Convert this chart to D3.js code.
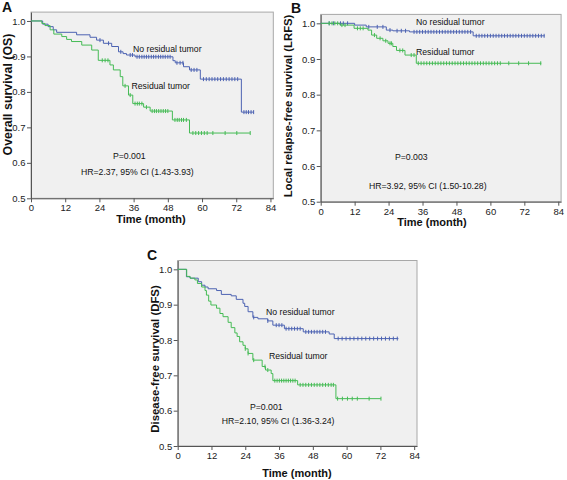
<!DOCTYPE html>
<html><head><meta charset="utf-8">
<script src="https://cdn.jsdelivr.net/npm/d3@7"></script>
<style>body{margin:0;background:#fff;} svg{display:block;font-family:"Liberation Sans",Arial,sans-serif;}</style>
</head><body><svg id="c" width="567" height="480"></svg>
<script>
// ---------- shared ----------
const xTicks = [0, 12, 24, 36, 48, 60, 72, 84];
const yTicks = [0.5, 0.6, 0.7, 0.8, 0.9, 1.0];
const groupNames = ["No residual tumor", "Residual tumor"];

// ---------- Panel A: Overall survival ----------
const osNoResTime = [0, 4.1, 6, 7.8, 9, 16, 20.7, 23, 25.4, 28.3, 30.7, 32.3, 33.5, 36.5, 49.8, 50.6, 53.5, 55.6, 59.4, 73.8];
const osNoResSurv = [1, 0.991, 0.984, 0.975, 0.968, 0.961, 0.954, 0.946, 0.937, 0.928, 0.913, 0.908, 0.904, 0.899, 0.888, 0.882, 0.871, 0.862, 0.836, 0.743];
const osNoResEnd = 78.2;
const osNoResCensor = [24.2, 27.2, 31.5, 34.8, 35.6, 37.2, 38, 38.9, 39.7, 40.5, 41.3, 42.2, 43, 43.8, 44.7, 45.5, 46.3, 47.1, 48, 48.8, 51.2, 52.3, 53.3, 56.2, 57.2, 58.2, 60.5, 61.5, 62.5, 63.5, 64.5, 65.5, 66.5, 67.5, 68.5, 69.5, 70.5, 71.5, 72.5, 74.7, 75.5, 76.3, 77.2, 78.1];
const osResTime = [0, 3.8, 4.9, 6.7, 8, 10.8, 12.5, 14.2, 17.8, 21.3, 23.6, 27.7, 28.9, 31.3, 32.2, 34.2, 35.7, 39.5, 41.8, 49.6, 55.6];
const osResSurv = [1, 0.993, 0.987, 0.975, 0.963, 0.956, 0.948, 0.942, 0.932, 0.918, 0.889, 0.876, 0.862, 0.843, 0.817, 0.791, 0.767, 0.757, 0.746, 0.721, 0.684];
const osResEnd = 76.9;
const osResCensor = [25, 26, 27, 33, 34.8, 36.5, 37.3, 38, 38.9, 40.5, 42.5, 43.3, 44, 44.8, 45.6, 46.4, 47.2, 48, 50.5, 51.3, 52, 52.8, 53.5, 54.5, 56.8, 57.8, 58.8, 59.8, 60.8, 61.8, 63.8, 68.1, 72.2, 76.9];

// ---------- Panel B: Local relapse-free survival ----------
const lrfsNoResTime = [0, 12, 16.1, 23.2, 25.5, 31.4, 53.9];
const lrfsNoResSurv = [1, 0.995, 0.99, 0.981, 0.979, 0.976, 0.965];
const lrfsNoResEnd = 79.2;
const lrfsNoResCensor = [3, 4.5, 7, 8, 9.5, 17, 20, 22, 24.5, 27, 28.5, 30, 33, 34, 35, 36, 37, 38, 39, 40, 41, 42, 43, 44, 45, 46, 47, 48, 49, 50, 51, 52, 53, 55, 56, 57, 58, 59, 60, 61, 62, 63, 64, 65, 66, 67, 68, 69, 70, 71, 72, 73, 74, 75, 76, 77, 78, 79];
const lrfsResTime = [0, 6.8, 11.8, 16.7, 18, 19.8, 22, 23.8, 25.5, 26.8, 29.8, 33.8];
const lrfsResSurv = [1, 0.995, 0.986, 0.981, 0.967, 0.958, 0.951, 0.944, 0.935, 0.924, 0.911, 0.888];
const lrfsResEnd = 78;
const lrfsResCensor = [3, 4, 5, 6, 7.5, 8.6, 13, 14, 15, 19, 21, 23, 24.5, 25, 28, 29, 32, 33, 34.5, 35.5, 36.5, 37.5, 38.5, 39.5, 40.5, 41.5, 42.5, 43.5, 44.5, 45.5, 46.5, 47.5, 48.5, 49.5, 50.5, 51.5, 52.5, 53.5, 54.5, 55.5, 56.5, 57.5, 58.5, 59.5, 60.5, 61.5, 62.5, 63.5, 66.5, 70, 73.5, 77.8];

// ---------- Panel C: Disease-free survival ----------
const dfsNoResTime = [0, 3.1, 4.4, 7.3, 8.5, 9.7, 10.8, 13.8, 15.5, 19, 20.8, 23.2, 23.8, 25, 26.7, 28.5, 32, 33.8, 37.9, 44.6, 53.8, 55.6];
const dfsNoResSurv = [1, 0.979, 0.975, 0.965, 0.955, 0.95, 0.945, 0.94, 0.929, 0.925, 0.915, 0.904, 0.895, 0.88, 0.864, 0.86, 0.854, 0.842, 0.832, 0.823, 0.817, 0.804];
const dfsNoResEnd = 78.4;
const dfsNoResCensor = [27, 32, 35, 36, 37, 38.5, 39.5, 40.5, 41.5, 42.5, 43.5, 45.5, 46.5, 47.5, 48.5, 49.5, 50.5, 51.5, 52.5, 57, 58.4, 59.8, 61.2, 62.6, 64, 65.4, 66.8, 68.2, 69.6, 71, 72.4, 73.8, 75.2, 76.6, 78];
const dfsResTime = [0, 3.2, 4.4, 6.1, 7, 8.5, 9.7, 10.2, 11, 11.8, 13.8, 15, 16.1, 17.9, 19, 20.3, 21.1, 22, 23.2, 24, 25, 26.7, 30, 31.2, 33.2, 33.8, 42.6, 56.2];
const dfsResSurv = [1, 0.98, 0.975, 0.97, 0.96, 0.95, 0.94, 0.927, 0.91, 0.899, 0.89, 0.875, 0.866, 0.85, 0.835, 0.82, 0.81, 0.795, 0.785, 0.775, 0.762, 0.743, 0.725, 0.715, 0.705, 0.685, 0.673, 0.634];
const dfsResEnd = 72.2;
const dfsResCensor = [24, 25, 27, 31, 32, 34.5, 35.3, 36.1, 36.9, 37.7, 38.5, 39.3, 40.1, 40.9, 41.7, 43.5, 44.5, 45.5, 46.5, 47.5, 48.5, 49.5, 50.5, 51.5, 52.5, 53.5, 54.5, 55.3, 56.8, 58.5, 60.3, 62, 63.8, 68, 72.2];

const colorNoRes = "#4d63b2";
const colorRes = "#45bb55";

const panels = [
  { letter: "A", lx: 2, ly: 12, l: 31, r: 273.3, t: 12.1, b: 198.3,
    ytitle: "Overall survival (OS)", ytx: 8, yty: 94.5, ytSize: 12.4,
    xtitleX: 151, xtitleY: 223, xLabelDy: 13,
    series: [
      { time: osNoResTime, surv: osNoResSurv, end: osNoResEnd, censor: osNoResCensor, color: colorNoRes },
      { time: osResTime, surv: osResSurv, end: osResEnd, censor: osResCensor, color: colorRes } ],
    notes: [ { text: groupNames[0], x: 133, y: 51.5 }, { text: groupNames[1], x: 131.5, y: 89 },
             { text: "P=0.001", x: 113, y: 159 }, { text: "HR=2.37, 95% CI (1.43-3.93)", x: 81, y: 175 } ] },
  { letter: "B", lx: 291, ly: 13, l: 320.7, r: 561.1, t: 14.4, b: 201.7,
    ytitle: "Local relapse-free survival (LRFS)", ytx: 288, yty: 106, ytSize: 11.3,
    xtitleX: 432, xtitleY: 226, xLabelDy: 13,
    series: [
      { time: lrfsNoResTime, surv: lrfsNoResSurv, end: lrfsNoResEnd, censor: lrfsNoResCensor, color: colorNoRes },
      { time: lrfsResTime, surv: lrfsResSurv, end: lrfsResEnd, censor: lrfsResCensor, color: colorRes } ],
    notes: [ { text: groupNames[0], x: 416, y: 25 }, { text: groupNames[1], x: 416, y: 54.5 },
             { text: "P=0.003", x: 395, y: 160 }, { text: "HR=3.92, 95% CI (1.50-10.28)", x: 369, y: 189 } ] },
  { letter: "C", lx: 147, ly: 260, l: 177.7, r: 417, t: 260.5, b: 446,
    ytitle: "Disease-free survival (DFS)", ytx: 154.5, yty: 359, ytSize: 11.4,
    xtitleX: 297, xtitleY: 477, xLabelDy: 13,
    series: [
      { time: dfsNoResTime, surv: dfsNoResSurv, end: dfsNoResEnd, censor: dfsNoResCensor, color: colorNoRes },
      { time: dfsResTime, surv: dfsResSurv, end: dfsResEnd, censor: dfsResCensor, color: colorRes } ],
    notes: [ { text: groupNames[0], x: 266, y: 315 }, { text: groupNames[1], x: 269, y: 359 },
             { text: "P=0.001", x: 250, y: 410 }, { text: "HR=2.10, 95% CI (1.36-3.24)", x: 221.7, y: 424 } ] }
];

const svg = d3.select("#c");

panels.forEach(p => {
  const x = d3.scaleLinear().domain([0, 85]).range([p.l, p.r]);
  const y = d3.scaleLinear().domain([0.5, 1.025]).range([p.b, p.t]);
  const g = svg.append("g");

  g.append("rect").attr("x", p.l).attr("y", p.t).attr("width", p.r - p.l).attr("height", p.b - p.t)
    .attr("fill", "#f0f0f0").attr("stroke", "#a8a8a8").attr("stroke-width", 1);

  const xa = g.append("g").attr("transform", `translate(0,${p.b})`)
    .call(d3.axisBottom(x).tickValues(xTicks).tickSize(4).tickSizeOuter(0).tickPadding(2));
  const ya = g.append("g").attr("transform", `translate(${p.l},0)`)
    .call(d3.axisLeft(y).tickValues(yTicks).tickFormat(d3.format(".1f")).tickSize(4).tickSizeOuter(0).tickPadding(1.5));
  [xa, ya].forEach(a => {
    a.selectAll("path").attr("stroke", "#555");
    a.selectAll("line").attr("stroke", "#555");
    a.selectAll("text").attr("font-size", "9.5px").attr("fill", "#222").attr("font-family", "Liberation Sans, Arial, sans-serif");
  });
  xa.selectAll("text").attr("dy", null).attr("y", p.xLabelDy);

  const line = d3.line().x(d => x(d[0])).y(d => y(d[1])).curve(d3.curveStepAfter);
  p.series.forEach(s => {
    const pts = s.time.map((t, i) => [t, s.surv[i]]);
    pts.push([s.end, s.surv[s.surv.length - 1]]);
    g.append("path").attr("d", line(pts)).attr("fill", "none").attr("stroke", s.color).attr("stroke-width", 1);
    const survAt = t => s.surv[Math.max(0, d3.bisectRight(s.time, t) - 1)];
    g.selectAll(null).data(s.censor).join("line")
      .attr("x1", d => x(d)).attr("x2", d => x(d))
      .attr("y1", d => y(survAt(d)) - 2).attr("y2", d => y(survAt(d)) + 2)
      .attr("stroke", s.color).attr("stroke-width", 1);
  });

  p.notes.forEach(n => {
    g.append("text").attr("x", n.x).attr("y", n.y).attr("font-size", "8.7px").attr("fill", "#111").text(n.text);
  });

  g.append("text").attr("x", p.xtitleX).attr("y", p.xtitleY).attr("text-anchor", "middle")
    .attr("font-size", "11px").attr("font-weight", "bold").attr("fill", "#111").text("Time (month)");
  g.append("text").attr("transform", `translate(${p.ytx},${p.yty}) rotate(-90)`).attr("text-anchor", "middle")
    .attr("dy", "0.35em").attr("font-size", p.ytSize + "px").attr("font-weight", "bold").attr("fill", "#111").text(p.ytitle);
  g.append("text").attr("x", p.lx).attr("y", p.ly).attr("font-size", "14px").attr("font-weight", "bold")
    .attr("fill", "#111").text(p.letter);
});
</script></body></html>
